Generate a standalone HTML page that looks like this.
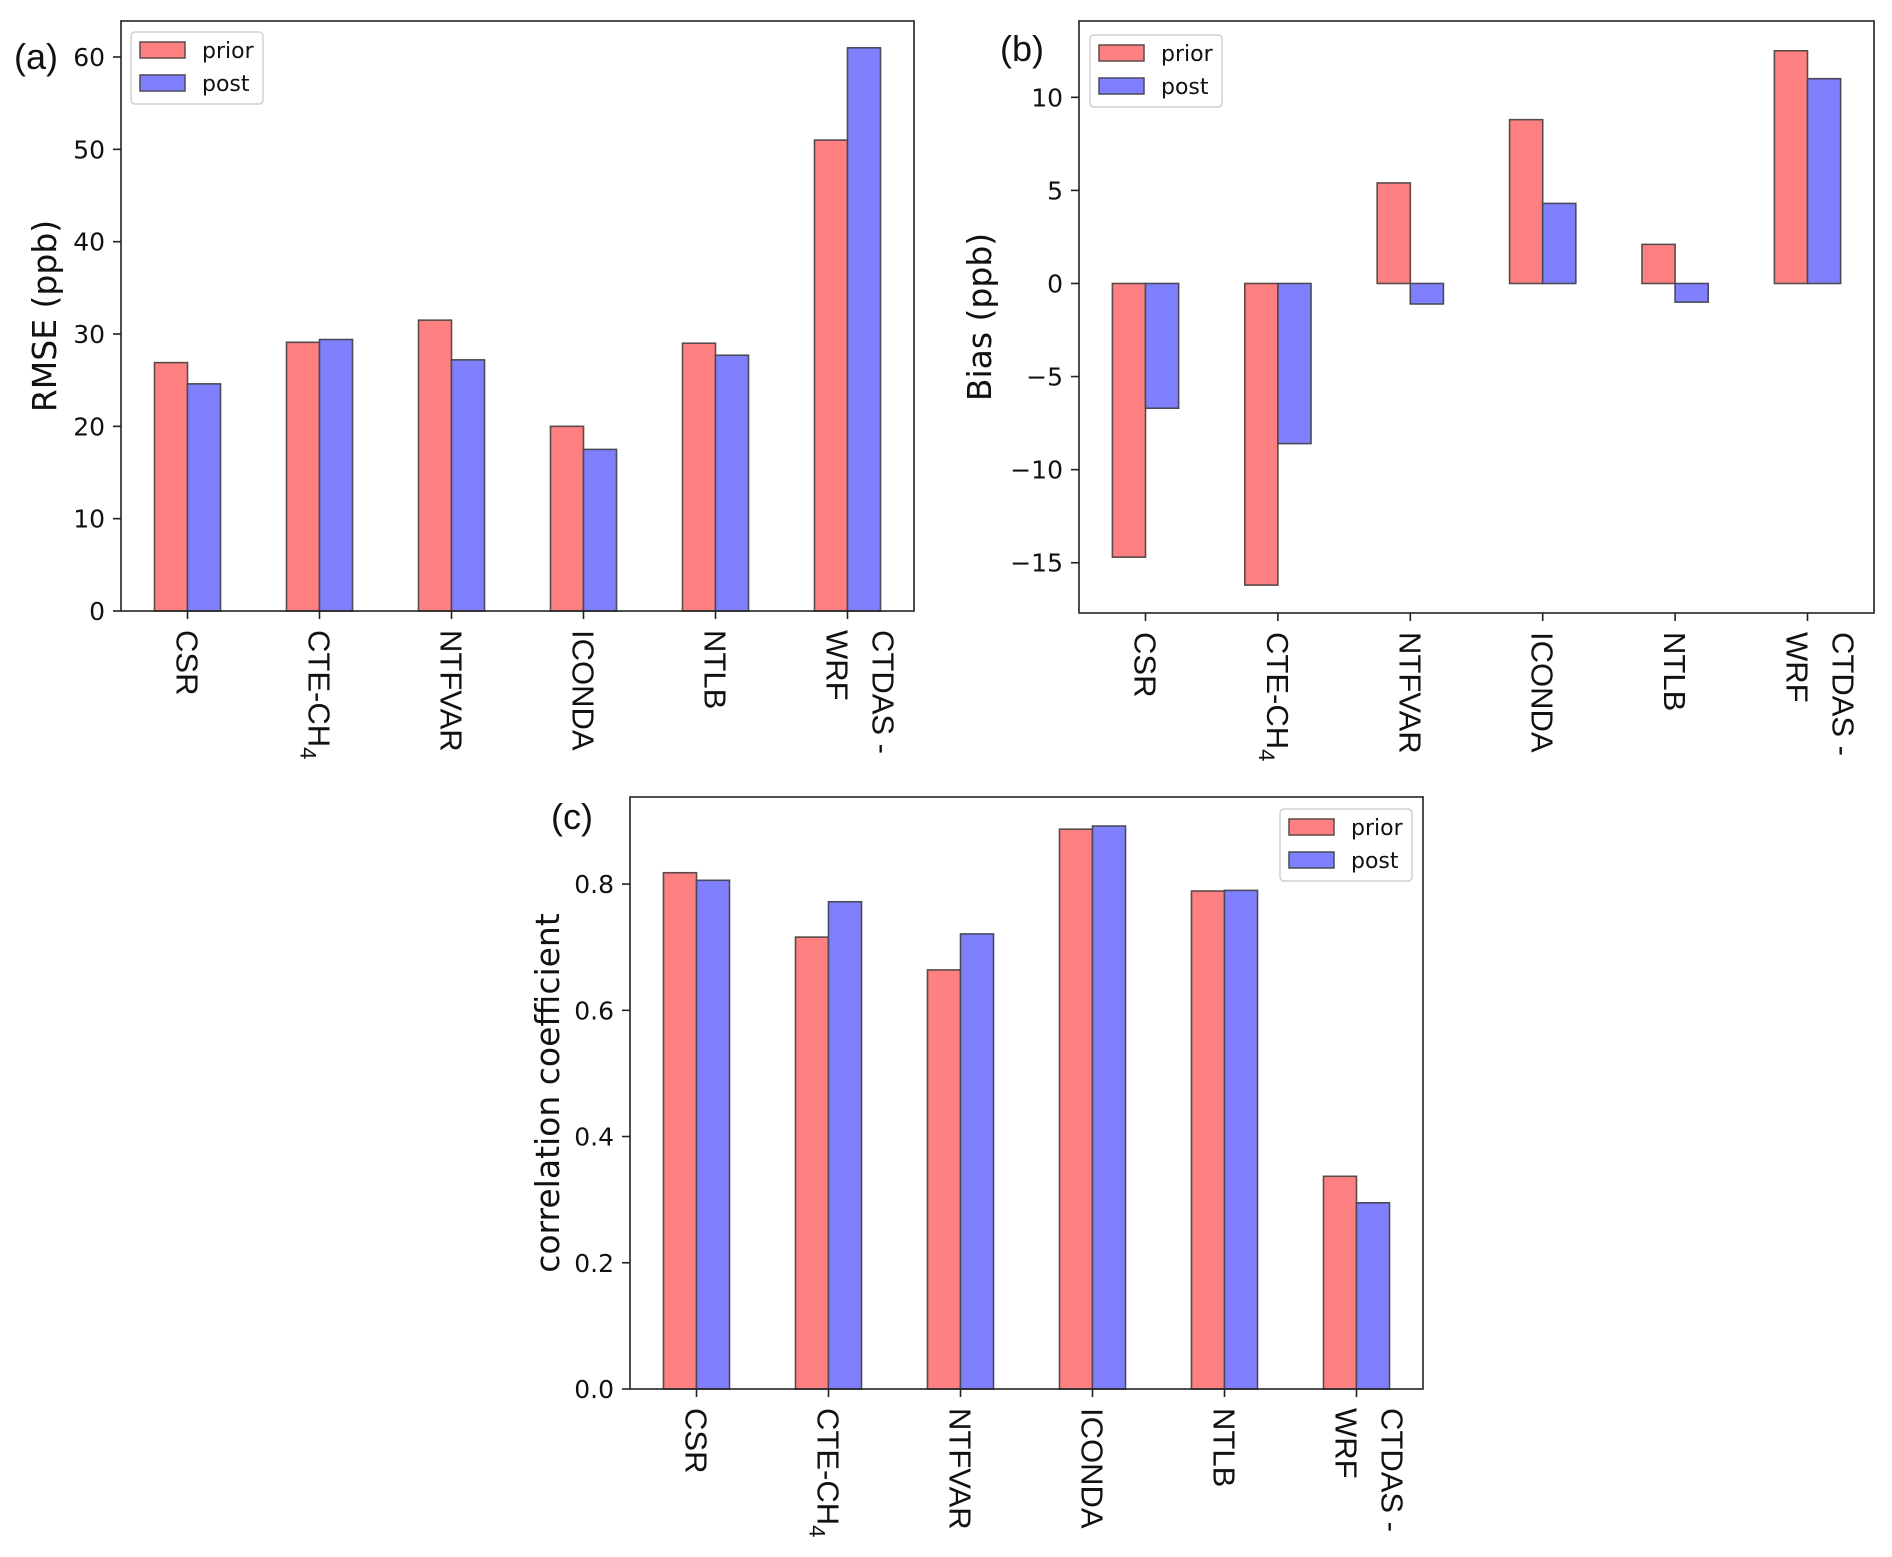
<!DOCTYPE html>
<html><head><meta charset="utf-8"><style>
html,body{margin:0;padding:0;background:#fff;}
svg{display:block;}
</style></head><body>
<svg id="fig" width="1892" height="1557" viewBox="0 0 1892 1557" xmlns="http://www.w3.org/2000/svg"></svg>
<script>
const categories = ["CSR", "CTE-CH4", "NTFVAR", "ICONDA", "NTLB", "CTDAS-WRF"];
const rmsePrior = [26.9, 29.1, 31.5, 20.0, 29.0, 51.0];
const rmsePost  = [24.6, 29.4, 27.2, 17.5, 27.7, 61.0];
const biasPrior = [-14.7, -16.2, 5.4, 8.8, 2.1, 12.5];
const biasPost  = [-6.7, -8.6, -1.1, 4.3, -1.0, 11.0];
const corrPrior = [0.818, 0.716, 0.664, 0.887, 0.789, 0.337];
const corrPost  = [0.806, 0.772, 0.721, 0.892, 0.790, 0.295];
const rmseTicks = [0, 10, 20, 30, 40, 50, 60];
const biasTicks = [-15, -10, -5, 0, 5, 10];
const corrTicks = [0.0, 0.2, 0.4, 0.6, 0.8];
const rmseTickLabels = ["0","10","20","30","40","50","60"];
const biasTickLabels = ["\u221215","\u221210","\u22125","0","5","10"];
const corrTickLabels = ["0.0","0.2","0.4","0.6","0.8"];

const NS = "http://www.w3.org/2000/svg";
const svg = document.getElementById("fig");
function mk(tag, attrs, parent){
  const e = document.createElementNS(NS, tag);
  for (const k in attrs) e.setAttribute(k, attrs[k]);
  (parent||svg).appendChild(e);
  return e;
}

function drawPanel(p){
  const g = mk("g", {});
  
  
  const L = p.left, T = p.top, W = p.width, H = p.bottom - p.top, B = p.bottom;
  const y = v => B - (v - p.ymin) / (p.ymax - p.ymin) * H;
  const sp = (W - 133) / 5;
  const x = i => L + 66.5 + i * sp;
  const bw = sp / 4;
  for (let i = 0; i < categories.length; i++){
    const y0 = y(0);
    const vp = p.prior[i], vq = p.post[i];
    const r1 = mk("rect", {x: x(i) - bw, y: Math.min(y(vp), y0), width: bw, height: Math.abs(y(vp) - y0), fill: "#ff8080", stroke: "#5a4a4a", "stroke-width": 1.6}, g);
    
    
    const r2 = mk("rect", {x: x(i), y: Math.min(y(vq), y0), width: bw, height: Math.abs(y(vq) - y0), fill: "#8080ff", stroke: "#4a4a5a", "stroke-width": 1.6}, g);
    
    
  }
  const fr = mk("rect", {x: L, y: T, width: W, height: H, fill: "none", stroke: "#222", "stroke-width": 1.6}, g);
  
  
  for (let k = 0; k < p.ticks.length; k++){
    const ty = y(p.ticks[k]);
    const tl = mk("line", {x1: L - 8, x2: L, y1: ty, y2: ty, stroke: "#222", "stroke-width": 1.6}, g);
    
    
    const tt = mk("text", {x: L - 16, y: ty + 9, "text-anchor": "end", "font-family": "DejaVu Sans, sans-serif", "font-size": 25, fill: "#111"}, g);
    tt.textContent = p.tickLabels[k];
    
    
  }
  for (let i = 0; i < categories.length; i++){
    const tx = x(i);
    const tl = mk("line", {x1: tx, x2: tx, y1: B, y2: B + 8, stroke: "#222", "stroke-width": 1.6}, g);
    
    
    const tg = mk("g", {transform: "translate(" + tx + "," + (B + 19) + ") rotate(90)"}, g);
    
    
    const attrs = {"font-family": "Liberation Sans, Arial, sans-serif", "font-size": 31, fill: "#111"};
    if (categories[i] === "CTDAS-WRF"){
      const t1 = mk("text", Object.assign({x: 0, y: -25}, attrs), tg);
      t1.textContent = "CTDAS -";
      const t2 = mk("text", Object.assign({x: 0, y: 21}, attrs), tg);
      t2.textContent = "WRF";
    } else if (categories[i] === "CTE-CH4"){
      const t = mk("text", Object.assign({x: 0, y: 11}, attrs), tg);
      t.appendChild(document.createTextNode("CTE-CH"));
      const s = mk("tspan", {"font-size": 22, dy: 8}, t);
      s.textContent = "4";
    } else {
      const t = mk("text", Object.assign({x: 0, y: 11}, attrs), tg);
      t.textContent = categories[i];
    }
  }
  const yl = mk("text", {transform: "translate(" + p.ylabelX + "," + ((T + B) / 2) + ") rotate(-90)", "text-anchor": "middle", "font-family": "DejaVu Sans, sans-serif", "font-size": 33, fill: "#111"}, g);
  yl.textContent = p.ylabel;
  
  
  const pl = mk("text", {x: p.plX, y: p.plY, "font-family": "Liberation Sans, Arial, sans-serif", "font-size": 36, fill: "#111"}, g);
  pl.textContent = p.panelLabel;
  
  
  const lg = mk("g", {}, g);
  
  
  const lx = p.legX, ly = p.legY;
  mk("rect", {x: lx, y: ly, width: 132, height: 72, rx: 4, fill: "#fff", "fill-opacity": 0.85, stroke: "#d0d0d0", "stroke-width": 1.5}, lg);
  const e1 = mk("rect", {x: lx + 9, y: ly + 10, width: 45, height: 16, fill: "#ff8080", stroke: "#5a4a4a", "stroke-width": 1.5}, lg);
  
  
  const e2 = mk("rect", {x: lx + 9, y: ly + 43, width: 45, height: 16, fill: "#8080ff", stroke: "#4a4a5a", "stroke-width": 1.5}, lg);
  
  
  const a1 = mk("text", {x: lx + 71, y: ly + 26, "font-family": "DejaVu Sans, sans-serif", "font-size": 22, fill: "#111"}, lg);
  a1.textContent = "prior";
  const a2 = mk("text", {x: lx + 71, y: ly + 59, "font-family": "DejaVu Sans, sans-serif", "font-size": 22, fill: "#111"}, lg);
  a2.textContent = "post";
}

drawPanel({name: "panel-a-rmse", left: 121, top: 21, bottom: 611, width: 793, ymin: 0, ymax: 63.9,
  prior: rmsePrior, post: rmsePost, ticks: rmseTicks, tickLabels: rmseTickLabels,
  ylabel: "RMSE (ppb)", ylabelX: 56, panelLabel: "(a)", plX: 14, plY: 69, legX: 131, legY: 32});
drawPanel({name: "panel-b-bias", left: 1079, top: 21, bottom: 613, width: 795, ymin: -17.7, ymax: 14.1,
  prior: biasPrior, post: biasPost, ticks: biasTicks, tickLabels: biasTickLabels,
  ylabel: "Bias (ppb)", ylabelX: 991, panelLabel: "(b)", plX: 1000, plY: 61, legX: 1090, legY: 35});
drawPanel({name: "panel-c-correlation", left: 630, top: 797, bottom: 1389, width: 793, ymin: 0, ymax: 0.938,
  prior: corrPrior, post: corrPost, ticks: corrTicks, tickLabels: corrTickLabels,
  ylabel: "correlation coefficient", ylabelX: 559, panelLabel: "(c)", plX: 551, plY: 829, legX: 1280, legY: 809});
</script>
</body></html>
